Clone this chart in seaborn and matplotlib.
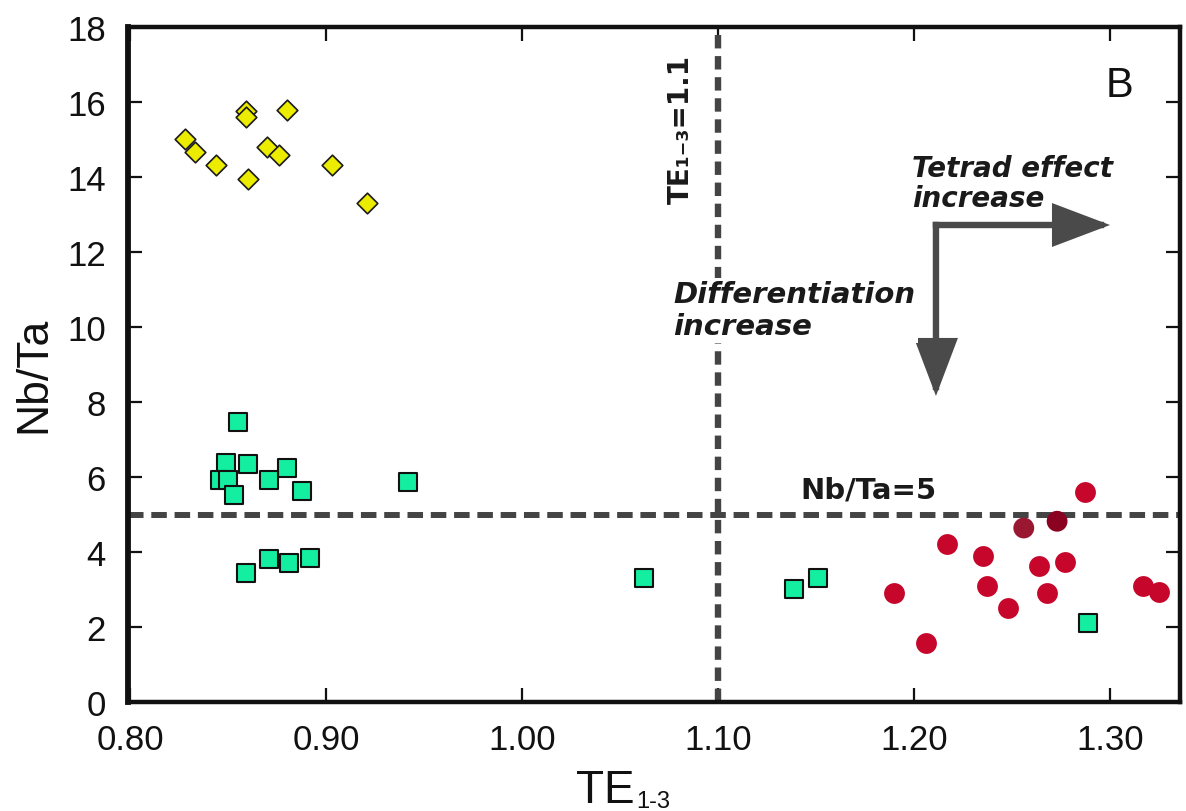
import numpy as np
import pandas as pd
import matplotlib
matplotlib.use("Agg")
import matplotlib.pyplot as plt
import seaborn as sns
from matplotlib.patches import FancyArrowPatch

# ---- data ----
diamond_te = [0.828, 0.833, 0.844, 0.859, 0.859, 0.860, 0.880, 0.870, 0.876, 0.903, 0.921]
diamond_nbta = [15.01, 14.66, 14.32, 15.75, 15.59, 13.95, 15.79, 14.79, 14.59, 14.33, 13.30]

square_te = [0.855, 0.849, 0.860, 0.880, 0.846, 0.850, 0.871, 0.853, 0.888, 0.942,
             0.859, 0.871, 0.881, 0.892, 1.062, 1.139, 1.151, 1.289]
square_nbta = [7.46, 6.37, 6.36, 6.25, 5.92, 5.92, 5.92, 5.52, 5.64, 5.87,
               3.44, 3.81, 3.71, 3.84, 3.31, 3.01, 3.31, 2.11]

circle_te = [1.287, 1.217, 1.235, 1.264, 1.277, 1.237, 1.190, 1.268, 1.248, 1.206, 1.317, 1.325]
circle_nbta = [5.59, 4.22, 3.90, 3.62, 3.74, 3.10, 2.92, 2.91, 2.50, 1.57, 3.10, 2.94]

dark_te = [1.256, 1.273]
dark_nbta = [4.64, 4.82]

x_ticks = [0.80, 0.90, 1.00, 1.10, 1.20, 1.30]
x_tick_labels = ["0.80", "0.90", "1.00", "1.10", "1.20", "1.30"]
y_ticks = [0, 2, 4, 6, 8, 10, 12, 14, 16, 18]

te_threshold = 1.1
nbta_threshold = 5

sns.set_theme(style="ticks")
plt.rcParams['font.family'] = ['Liberation Sans', 'DejaVu Sans']

W, H = 1186, 812
fig = plt.figure(figsize=(W / 100, H / 100), dpi=100)
fig.patch.set_facecolor("white")
ax = fig.add_axes([128 / W, 1 - 703 / H, (1180 - 128) / W, (703 - 28) / H])
ax.set_facecolor("white")

df_d = pd.DataFrame({"TE": diamond_te, "NbTa": diamond_nbta})
df_s = pd.DataFrame({"TE": square_te, "NbTa": square_nbta})
df_c = pd.DataFrame({"TE": circle_te, "NbTa": circle_nbta})
df_k = pd.DataFrame({"TE": dark_te, "NbTa": dark_nbta, "grp": ["a", "b"]})

line_col = "#444444"
ax.axhline(nbta_threshold, color=line_col, lw=4.3, dashes=(2.6, 1.3), zorder=2)
ax.axvline(te_threshold, color=line_col, lw=4.6, dashes=(2.1, 1.2), zorder=2)

sns.scatterplot(data=df_d, x="TE", y="NbTa", marker="D", s=10.5 ** 2, color="#ecec00",
                edgecolor="#1a1a1a", linewidth=1.2, ax=ax, zorder=3)
sns.scatterplot(data=df_s, x="TE", y="NbTa", marker="s", s=12.5 ** 2, color="#14eea0",
                edgecolor="#111111", linewidth=1.5, ax=ax, zorder=3)
sns.scatterplot(data=df_c, x="TE", y="NbTa", marker="o", s=15 ** 2, color="#c6062a",
                linewidth=0, ax=ax, zorder=3)
sns.scatterplot(data=df_k, x="TE", y="NbTa", marker="o", s=15 ** 2,
                hue="grp", palette=["#9a1731", "#8a0220"], legend=False,
                linewidth=0, ax=ax, zorder=3)

ax.set_xlim(0.799, 1.3357)
ax.set_ylim(0, 18)
ax.set_xticks(x_ticks)
ax.set_xticklabels(x_tick_labels)
ax.set_yticks(y_ticks)
ax.tick_params(axis="both", which="major", direction="in", length=10, width=1.6,
               labelsize=25, colors="#111111", top=True, right=True)
ax.tick_params(axis="x", pad=15)
ax.tick_params(axis="y", pad=16)
for sp in ax.spines.values():
    sp.set_linewidth(3.2)
    sp.set_color("#111111")
    sp.set_visible(True)
ax.spines["left"].set_linewidth(4.2)

# axis labels
ax.set_xlabel("TE", fontsize=33, color="#111111")
ax.xaxis.label.set_va("baseline")
ax.xaxis.label.set_ha("center")
ax.xaxis.set_label_coords((605 - 128) / 1052, (703 - 803) / 675)
ax.annotate("1-3", xy=(1, 0), xycoords=ax.xaxis.label, xytext=(1.5, 0),
            textcoords="offset points", fontsize=17, color="#111111",
            ha="left", va="bottom")
ax.set_ylabel("Nb/Ta", fontsize=32, color="#111111")
ax.yaxis.label.set_va("center")
ax.yaxis.set_label_coords((34 - 128) / 1052, (703 - 375) / 675)

ann_font = ["DejaVu Sans"]
ax.text(1.081, 15.28, "TE\u2081\u208b\u2083=1.1", rotation=90, ha="center", va="center",
        fontsize=20, fontweight="bold", family=ann_font, color="#1a1a1a", zorder=4)
ax.text(1.077, 10.45, "Differentiation\nincrease", ha="left", va="center",
        fontsize=21, fontweight="bold", fontstyle="oblique", family=ann_font,
        color="#1a1a1a", linespacing=1.15, zorder=5,
        bbox=dict(facecolor="white", edgecolor="none", pad=2))
ax.text(1.199, 13.85, "Tetrad effect\nincrease", ha="left", va="center",
        fontsize=20, fontweight="bold", fontstyle="oblique", family=ann_font,
        color="#1a1a1a", linespacing=1.1, zorder=5)
ax.text(1.177, 5.66, "Nb/Ta=5", ha="center", va="center", fontsize=21,
        fontweight="bold", family=ann_font, color="#1a1a1a", zorder=4)
ax.text(1.305, 16.45, "B", ha="center", va="center", fontsize=30, color="#111111")

arrow_col = "#4a4a4a"
corner = (1.2112, 12.72)
for tip in [(1.300, 12.72), (1.2112, 8.16)]:
    arr = FancyArrowPatch(corner, tip, arrowstyle="-|>,head_length=33,head_width=12.5",
                          mutation_scale=1, lw=4.6, color=arrow_col,
                          shrinkA=0, shrinkB=0, joinstyle="miter", capstyle="projecting",
                          zorder=4)
    ax.add_patch(arr)

fig.savefig("out.png", dpi=100, facecolor="white")
